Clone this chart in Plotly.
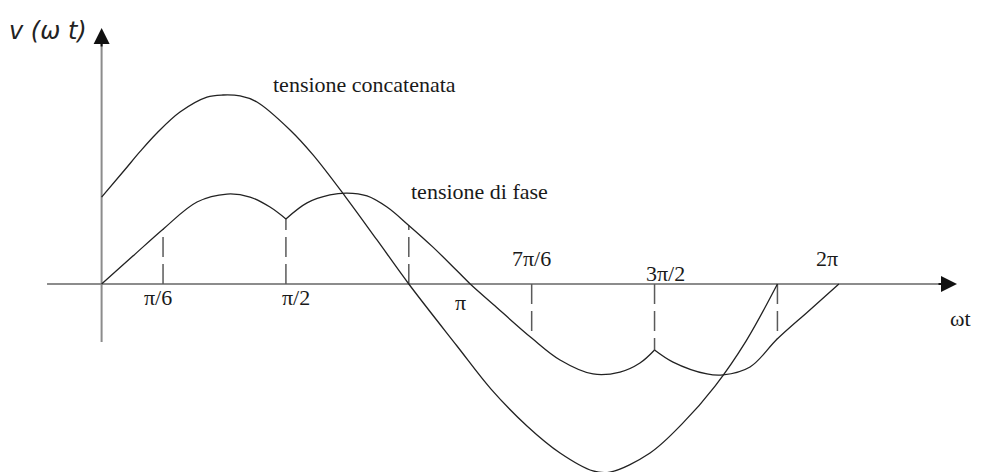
import math
import plotly.graph_objects as go

PI = math.pi

# Line voltage (tensione concatenata): ωt in radians, voltage normalised to its peak
line_x = [0.0, 0.196, 0.327, 0.472, 0.668, 0.898, 1.035, 1.180, 1.324, 1.606,
          1.802, 2.080, 2.347, 5 * PI / 6, 3.029, 3.319, 3.625, 3.907, 4.188, 4.333,
          4.674, 4.955, 5.228, 5.492, 11 * PI / 6]
line_v = [0.460, 0.603, 0.700, 0.799, 0.910, 0.989, 1.000, 0.995, 0.963, 0.815,
          0.683, 0.460, 0.233, 0.0, -0.328, -0.556, -0.751, -0.894, -0.989, -0.995,
          -0.894, -0.735, -0.540, -0.302, 0.0]

# Phase voltage (tensione di fase), same units
phase_x = [0.0, PI / 12, PI / 6, 0.813, 1.069, 1.265, 1.435, PI / 2,
           1.751, 1.946, 2.091, 2.262, 2.432, 5 * PI / 6, 2.824, 3.029, PI,
           3.336, 7 * PI / 6, 3.907, 4.188, 4.418, 4.588, 3 * PI / 2,
           4.870, 5.159, 5.296, 5.526, 11 * PI / 6, 23 * PI / 12, 2 * PI]
phase_v = [0.0, 0.145, 0.29, 0.434, 0.476, 0.460, 0.407, 0.344,
           0.429, 0.471, 0.481, 0.466, 0.407, 0.31, 0.195, 0.07, 0.0,
           -0.107, -0.286, -0.402, -0.476, -0.466, -0.418, -0.349,
           -0.413, -0.476, -0.481, -0.439, -0.29, -0.145, 0.0]

# Corners of the phase waveform (the trace is broken there so the spline keeps them sharp)
cusp_x = [PI / 2, 3 * PI / 2]

# Dashed verticals from the axis to the phase curve
dash_x = [PI / 6, PI / 2, 5 * PI / 6, 7 * PI / 6, 3 * PI / 2, 11 * PI / 6]

# Angle labels on the ωt axis
tick_vals = [PI / 6, PI / 2, PI, 7 * PI / 6, 3 * PI / 2, 2 * PI]
tick_text = ["π/6", "π/2", "π", "7π/6", "3π/2", "2π"]

CURVE = "#222222"
AXIS = "#8c8c8c"
SERIF = "Liberation Serif"
TEXT = "#1a1a1a"

# --- build the phase trace as separate spline pieces split at the cusps
seg_x, seg_v = [], []
for x, v in zip(phase_x, phase_v):
    seg_x.append(x)
    seg_v.append(v)
    if any(abs(x - c) < 1e-9 for c in cusp_x):
        seg_x += [None, x]
        seg_v += [None, v]

phase_at = {round(x, 6): v for x, v in zip(phase_x, phase_v)}
dx, dv = [], []
for x in dash_x:
    dx += [x, x, None]
    dv += [0.0, phase_at[round(x, 6)], None]

fig = go.Figure()

fig.add_trace(go.Scatter(
    x=dx, y=dv, mode="lines", hoverinfo="skip",
    line=dict(color="#5a5a5a", width=1.5, dash="20px,7px"),
))
fig.add_trace(go.Scatter(
    x=line_x, y=line_v, mode="lines", name="tensione concatenata",
    line=dict(color=CURVE, width=1.3, shape="spline", smoothing=1.0),
))
fig.add_trace(go.Scatter(
    x=seg_x, y=seg_v, mode="lines", name="tensione di fase", connectgaps=False,
    line=dict(color=CURVE, width=1.3, shape="spline", smoothing=1.0),
))

# Axes drawn by hand: grey shafts with black arrowheads
shapes = [
    dict(type="line", xref="x", yref="y", x0=-0.465, y0=0, x1=7.16, y1=0,
         line=dict(color=AXIS, width=2), layer="below"),
    dict(type="line", xref="x", yref="y", x0=0, y0=-0.307, x1=0, y1=1.30,
         line=dict(color=AXIS, width=2), layer="below"),
]

annotations = [
    dict(x=7.29, y=0, xref="x", yref="y", ax=-20, ay=0, text="", showarrow=True,
         arrowhead=2, arrowsize=1.6, arrowwidth=2, arrowcolor="#111111"),
    dict(x=0, y=1.354, xref="x", yref="y", ax=0, ay=20, text="", showarrow=True,
         arrowhead=2, arrowsize=1.6, arrowwidth=2, arrowcolor="#111111"),
    dict(x=-0.457, y=1.339, xref="x", yref="y", text="<i>v (ω t)</i>", showarrow=False,
         font=dict(family="DejaVu Sans", size=24, color="#222222")),
    dict(x=7.324, y=-0.18, xref="x", yref="y", text="ωt", showarrow=False,
         font=dict(family=SERIF, size=22, color=TEXT)),
    dict(x=1.445, y=1.053, xref="x", yref="y", text="tensione concatenata",
         showarrow=False, xanchor="left",
         font=dict(family=SERIF, size=22, color=TEXT)),
    dict(x=2.622, y=0.487, xref="x", yref="y", text="tensione di fase",
         showarrow=False, xanchor="left",
         font=dict(family=SERIF, size=22, color=TEXT)),
]

# label offsets in pixels from each tick position on the axis
label_dx = [-5, 10, -10, 0, 11, -12]
label_dy = [-13, -13, -18, 26, 11, 26]
for val, txt, ox, oy in zip(tick_vals, tick_text, label_dx, label_dy):
    annotations.append(dict(
        x=val, y=0, xref="x", yref="y", text=txt, showarrow=False,
        xshift=ox, yshift=oy, font=dict(family=SERIF, size=22, color=TEXT),
    ))

fig.update_layout(
    width=981, height=472, autosize=False,
    margin=dict(l=0, r=0, t=0, b=0),
    paper_bgcolor="white", plot_bgcolor="white",
    showlegend=False,
    xaxis=dict(visible=False, range=[-0.8659, 7.4945], fixedrange=True),
    yaxis=dict(visible=False, range=[-0.9947, 1.5026], fixedrange=True),
    shapes=shapes, annotations=annotations,
)

fig.write_html("out.html", config={"displayModeBar": False})
